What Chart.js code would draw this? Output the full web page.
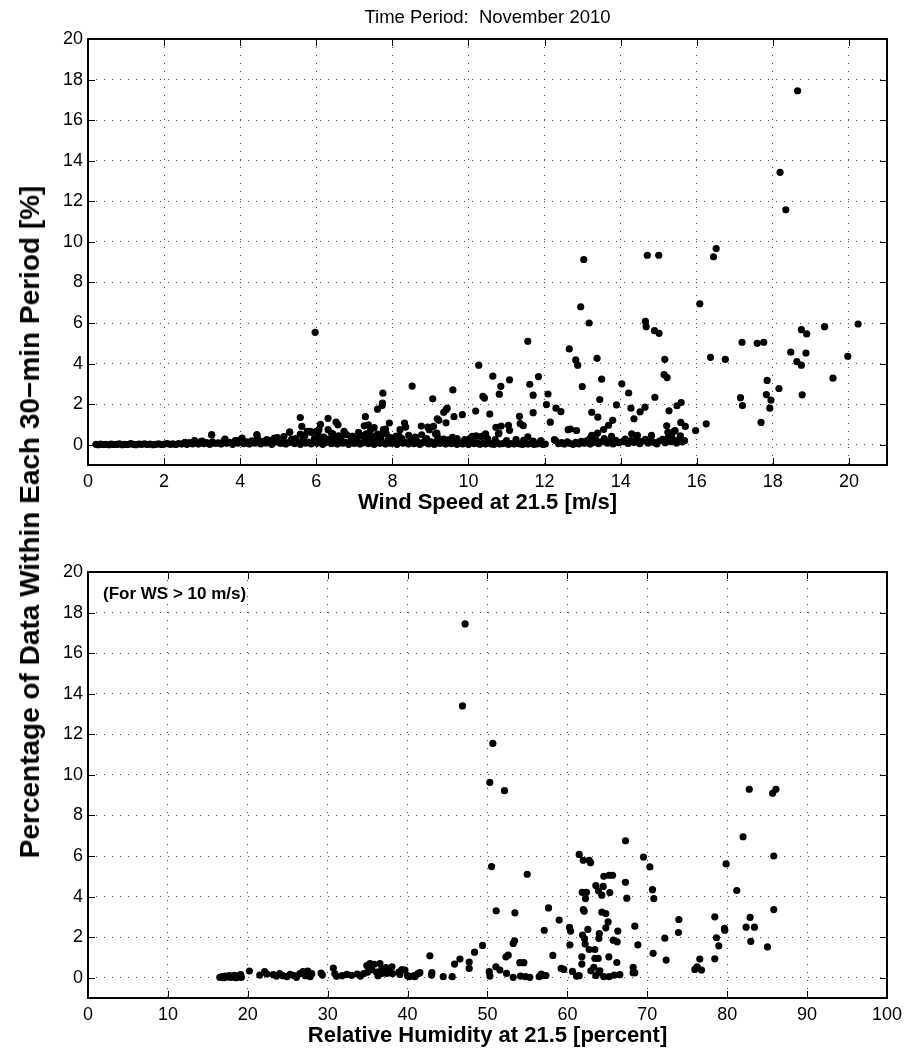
<!DOCTYPE html>
<html>
<head>
<meta charset="utf-8">
<script src="https://cdn.jsdelivr.net/npm/chart.js@4.4.0/dist/chart.umd.min.js"></script>
<style>
  body { margin: 0; background: #fff; }
  #wrap { position: relative; width: 908px; height: 1055px; }
  canvas { position: absolute; left: 0; }
  #ylab {
    position: absolute; left: 30px; top: 522px;
    transform: translate(-50%, -50%) rotate(-90deg);
    font: bold 28px 'Liberation Sans', Arial, sans-serif;
    white-space: nowrap; color: #000;
  }
</style>
</head>
<body>
<div id="wrap">
  <canvas id="topChart" width="908" height="520" style="top:0"></canvas>
  <canvas id="bottomChart" width="908" height="535" style="top:520px"></canvas>
  <div id="ylab">Percentage of Data Within Each 30−min Period [%]</div>
</div>
<script>
// ---- top panel: wind speed vs percentage ----
// dense band of points near zero
const wsBand = [
  0.21,0.27,0.33,0.40,0.47,0.55,0.61,0.68,0.76,0.83,
  0.90,0.97,1.05,1.12,1.19,1.26,1.34,1.41,1.49,1.56,
  1.63,1.71,1.78,1.86,1.93,2.01,2.08,2.16,2.23,2.31,
  2.38,2.46,2.53,2.60,2.67,2.75,2.82,2.90,2.97,3.05,
  3.12,3.20,3.27,3.34,3.42,3.50,3.57,3.64,3.72,3.80,
  3.87,3.94,4.02,4.09,4.17,4.24,4.31,4.39,4.46,4.54,
  4.61,4.68,4.76,4.83,4.91,4.98,5.06,5.13,5.20,5.28,
  5.35,5.43,5.50,5.58,5.65,5.72,5.80,5.87,5.95,6.02,
  6.10,6.17,6.25,6.32,6.40,6.47,6.55,6.62,6.70,6.77,
  6.85,6.92,7.00,7.07,7.15,7.22,7.30,7.37,7.45,7.52,
  7.60,7.67,7.75,7.82,7.90,7.97,8.05,8.12,8.20,8.27,
  8.35,8.42,8.50,8.57,8.65,8.72,8.80,8.87,8.95,9.02,
  9.10,9.17,9.25,9.32,9.40,9.47,9.55,9.62,9.70,9.77,
  9.85,9.92,10.00,10.07,10.15,10.22,10.30,10.37,10.45,10.52,
  10.60,10.67,10.75,10.82,10.90,10.97,11.05,11.12,11.20,11.27,
  11.35,11.42,11.50,11.57,11.65,11.72,11.80,11.87,11.95,12.02,
  12.30,12.37,12.45,12.52,12.60,12.67,12.75,12.82,12.90,12.97,
  13.05,13.12,13.20,13.27,13.35,13.42,13.50,13.57,13.65,13.72,
  13.80,13.87,13.95,14.05,14.12,14.20,14.27,14.35,14.42,14.50,
  14.57,14.65,14.72,14.80,14.87,14.95,15.02,15.10,15.17,15.25,
  15.32,15.40,15.47,15.55,15.62,15.68
];
const pctBand = [
  0.02,0.00,0.03,0.01,0.02,0.00,0.03,0.01,0.02,0.04,
  0.00,0.02,0.01,0.05,0.02,0.00,0.03,0.02,0.04,0.01,
  0.03,0.00,0.02,0.04,0.01,0.03,0.05,0.02,0.04,0.01,
  0.06,0.03,0.08,0.02,0.10,0.04,0.12,0.03,0.15,0.05,
  0.10,0.02,0.14,0.06,0.09,0.03,0.18,0.07,0.12,0.02,
  0.20,0.08,0.25,0.05,0.14,0.03,0.19,0.08,0.30,0.04,
  0.16,0.09,0.22,0.02,0.13,0.35,0.06,0.20,0.03,0.11,
  0.27,0.05,0.15,0.02,0.24,0.08,0.13,0.04,0.30,0.07,
  0.18,0.02,0.11,0.26,0.05,0.15,0.03,0.21,0.08,0.12,
  0.02,0.28,0.06,0.17,0.03,0.10,0.22,0.05,0.14,0.02,
  0.19,0.07,0.11,0.03,0.25,0.06,0.13,0.02,0.20,0.08,
  0.12,0.03,0.27,0.05,0.16,0.02,0.10,0.22,0.04,0.14,
  0.02,0.18,0.06,0.11,0.03,0.24,0.05,0.13,0.02,0.09,
  0.04,0.12,0.02,0.20,0.05,0.10,0.02,0.07,0.03,0.12,
  0.04,0.02,0.09,0.03,0.05,0.10,0.02,0.06,0.03,0.08,
  0.04,0.02,0.05,0.03,0.07,0.02,0.04,0.06,0.02,0.03,
  0.18,0.05,0.10,0.03,0.14,0.06,0.02,0.12,0.04,0.16,
  0.07,0.20,0.03,0.11,0.24,0.05,0.15,0.30,0.08,0.18,
  0.04,0.22,0.10,0.15,0.28,0.06,0.20,0.12,0.30,0.05,
  0.17,0.26,0.09,0.20,0.12,0.04,0.18,0.27,0.10,0.35,
  0.15,0.22,0.08,0.30,0.14,0.20
];
// second, slightly raised layer
const wsLayer = [
  2.55,2.80,3.00,3.25,3.60,3.90,4.05,4.30,4.44,4.70,
  4.90,5.15,5.30,5.45,5.70,5.86,6.05,6.20,6.45,6.65,
  6.95,7.05,7.20,7.40,7.55,7.70,7.95,8.10,8.25,8.60,
  8.90,9.20,9.35,9.70,9.90,10.05,10.50,10.70,11.00,11.25,
  11.45,11.70,11.90
];
const pctLayer = [
  0.12,0.20,0.18,0.49,0.28,0.20,0.32,0.15,0.49,0.25,
  0.33,0.40,0.62,0.30,0.45,0.62,0.50,0.38,0.42,0.35,
  0.41,0.30,0.45,0.33,0.40,0.28,0.35,0.43,0.30,0.38,
  0.30,0.35,0.28,0.30,0.25,0.33,0.30,0.25,0.20,0.25,
  0.22,0.18,0.20
];
// scattered points
const wsScatter = [
  18.65,18.19,18.34,13.03,14.70,15.00,16.51,16.44,12.95,16.08,
  5.97,13.17,14.65,14.67,14.89,15.01,11.56,17.19,17.59,17.76,
  18.75,18.89,19.36,20.24,12.65,18.47,18.87,18.63,18.75,19.97,
  12.82,12.87,13.38,16.36,16.75,15.16,10.27,10.64,11.08,11.84,
  15.14,15.22,13.50,19.58,17.85,12.99,8.52,9.59,10.85,11.61,
  14.03,18.16,7.75,11.70,12.09,10.81,10.38,10.42,13.45,9.06,
  14.21,14.90,17.15,17.83,17.95,18.77,7.74,7.73,12.05,13.89,
  17.20,17.92,15.48,15.59,12.30,7.61,9.41,9.44,9.35,10.19,
  12.43,11.70,14.27,14.51,14.64,15.27,13.24,10.56,9.84,13.40,
  11.34,7.29,9.62,5.58,6.31,14.35,9.18,9.22,13.79,12.15,
  17.69,6.52,6.57,9.41,7.92,8.32,11.36,11.44,16.25,15.58,
  6.11,10.86,10.72,11.05,11.08,13.68,15.21,15.70,9.08,8.93,
  8.97,8.76,8.35,7.26,7.37,7.43,7.52,5.62,7.82,7.76,
  12.68,12.62,12.84,13.55,15.97,8.20,6.31,6.00,6.07,5.76,
  5.84,6.73,15.43,15.40,5.30,5.86,15.24,6.40,10.80,13.39,
  9.17,9.13,7.31,7.84,10.79,14.29,10.45,5.58,7.61,6.44,
  3.25,4.44,10.43,8.77,6.80,15.34,13.24,14.44,14.81,8.43,
  7.44,7.15,6.59,15.57,10.20,10.10,10.34,7.68,6.94,8.18,
  13.76,11.56,9.58,13.20,12.26,7.11
];
const pctScatter = [
  17.45,13.43,11.58,9.13,9.34,9.34,9.67,9.26,6.80,6.95,
  5.54,6.00,6.08,5.82,5.62,5.49,5.10,5.05,5.00,5.05,
  5.67,5.46,5.82,5.95,4.72,4.56,4.52,4.10,3.92,4.36,
  4.18,3.92,4.26,4.31,4.21,4.21,3.92,3.38,3.20,3.36,
  3.46,3.31,3.23,3.28,3.17,2.87,2.89,2.70,2.88,2.98,
  3.00,2.77,2.54,2.44,2.50,2.49,2.38,2.30,2.23,2.26,
  2.55,2.34,2.32,2.47,2.20,2.46,2.05,1.93,1.98,1.96,
  1.93,1.80,1.92,2.08,1.80,1.75,1.72,1.80,1.60,1.66,
  1.63,1.58,1.80,1.62,1.85,1.67,1.60,1.51,1.48,1.36,
  1.40,1.38,1.38,1.34,1.30,1.28,1.28,1.20,1.20,1.11,
  1.10,1.11,0.98,1.08,1.07,1.07,1.04,0.94,1.03,1.10,
  1.00,0.92,0.86,0.96,0.71,0.96,0.93,0.90,0.90,0.87,
  0.74,0.92,0.87,0.93,0.98,0.74,0.84,0.90,0.77,0.74,
  0.77,0.74,0.70,0.75,0.70,0.74,0.74,0.66,0.74,0.66,
  0.66,0.66,0.69,0.66,0.62,0.62,0.61,0.57,0.57,0.57,
  0.57,0.54,0.54,0.54,0.54,0.54,0.53,0.52,0.52,0.52,
  0.49,0.49,0.49,0.49,0.49,0.49,0.46,0.46,0.46,0.46,
  0.44,0.44,0.44,0.44,0.44,0.41,0.41,0.41,0.41,0.41,
  0.41,0.39,0.36,0.33,0.25,0.61
];

// ---- bottom panel: relative humidity vs percentage (WS > 10 m/s) ----
const humidity = [
  47.20,46.87,50.67,50.29,52.13,82.76,86.10,85.69,67.27,81.99,
  61.48,61.98,62.73,62.90,69.52,70.32,85.83,79.87,50.51,54.97,
  64.56,65.23,65.65,67.27,63.56,64.48,63.90,64.31,65.31,61.85,
  62.39,62.27,67.44,70.65,70.82,81.20,85.83,51.09,53.43,57.64,
  62.00,62.10,64.31,64.81,58.97,73.95,78.45,82.87,65.10,57.10,
  60.27,60.40,62.56,64.00,64.81,66.31,68.44,73.90,79.66,79.70,
  82.37,83.41,82.95,85.04,78.66,78.95,72.19,61.89,62.14,62.22,
  63.94,65.73,66.23,60.31,68.82,62.73,63.44,70.73,72.36,76.57,
  78.45,75.95,76.78,76.24,58.18,61.81,61.81,63.44,63.85,65.19,
  66.19,59.22,59.55,60.64,61.14,61.48,62.94,63.31,63.56,63.94,
  64.06,64.56,65.23,65.86,66.56,68.23,68.23,68.44,49.38,48.38,
  47.71,47.71,46.55,45.88,42.79,43.04,43.00,44.46,45.59,41.54,
  40.92,40.21,39.67,39.04,38.04,37.37,36.75,36.54,53.22,53.39,
  52.30,52.59,51.05,51.55,52.39,50.22,50.30,54.05,54.55,53.22,
  54.14,54.76,55.30,56.47,56.72,56.97,57.31,16.50,16.80,17.00,
  17.20,17.50,17.70,17.90,18.10,18.30,18.50,18.70,18.90,19.10,
  19.20,20.20,21.50,22.10,22.40,23.20,23.60,24.00,24.40,24.90,
  25.30,25.70,26.10,26.50,26.90,27.20,27.50,27.80,28.00,29.17,
  29.33,30.70,30.90,31.10,31.80,32.40,33.00,33.70,34.10,34.50,
  34.90,35.30,35.80,35.50,35.00,36.10,36.30,36.70,37.30,37.70,
  38.10,38.90,39.30,40.00,40.80,41.30
];
const pctHumid = [
  17.44,13.40,11.55,9.63,9.22,9.29,9.29,9.09,6.75,6.95,
  6.08,5.79,5.79,5.67,5.95,5.46,6.00,5.61,5.48,5.10,
  5.00,5.05,5.05,4.70,4.54,4.50,4.28,4.07,4.20,4.21,
  4.21,3.90,3.92,4.34,3.90,4.30,3.36,3.30,3.20,3.44,
  3.36,3.28,3.23,3.16,2.84,2.87,3.00,2.97,2.75,2.34,
  2.48,2.30,2.38,2.18,2.46,2.30,2.54,2.23,2.43,2.34,
  2.49,2.49,1.79,1.52,1.97,1.57,1.95,2.10,1.93,1.66,
  1.93,1.85,1.77,1.62,1.62,1.39,1.39,1.20,0.87,0.92,
  0.93,0.41,0.38,0.54,1.10,1.03,0.67,0.95,0.95,1.03,
  0.75,0.46,0.41,0.31,0.08,0.10,0.34,0.51,0.11,0.25,
  0.34,0.05,0.05,0.13,0.15,0.51,0.25,0.25,1.59,1.26,
  0.77,0.46,0.92,0.67,1.08,0.25,0.13,0.05,0.05,0.25,
  0.05,0.05,0.38,0.16,0.54,0.21,0.41,0.70,1.69,1.82,
  1.03,1.11,0.54,0.38,0.21,0.30,0.08,0.74,0.74,0.02,
  0.08,0.05,0.02,0.05,0.18,0.11,0.11,0.02,0.05,0.00,
  0.08,0.03,0.10,0.02,0.06,0.12,0.00,0.09,0.04,0.15,
  0.02,0.33,0.13,0.30,0.18,0.15,0.08,0.20,0.10,0.05,
  0.16,0.12,0.02,0.20,0.30,0.10,0.33,0.05,0.20,0.23,
  0.13,0.48,0.20,0.07,0.10,0.16,0.12,0.18,0.08,0.20,
  0.60,0.70,0.66,0.40,0.28,0.28,0.10,0.20,0.50,0.28,
  0.20,0.28,0.40,0.10,0.10,0.20
];

const titleText = 'Time Period:  November 2010';
const noteText = '(For WS > 10 m/s)';

Chart.defaults.font.family = "'Liberation Sans', Arial, Helvetica, sans-serif";
Chart.defaults.color = '#000';

const toPoints = (xs, ys) => xs.map((v, i) => ({ x: v, y: ys[i] }));

// matlab-style box with inward ticks, plus optional text
const matlabBox = {
  id: 'matlabBox',
  afterDraw(chart, args, opts) {
    const { ctx, chartArea: a, scales: { x, y } } = chart;
    ctx.save();
    ctx.strokeStyle = '#000';
    ctx.lineWidth = 1;
    ctx.beginPath();
    x.ticks.forEach(t => {
      const px = Math.round(x.getPixelForValue(t.value)) + 0.5;
      ctx.moveTo(px, a.bottom); ctx.lineTo(px, a.bottom - 7);
      ctx.moveTo(px, a.top); ctx.lineTo(px, a.top + 7);
    });
    y.ticks.forEach(t => {
      const py = Math.round(y.getPixelForValue(t.value)) + 0.5;
      ctx.moveTo(a.left, py); ctx.lineTo(a.left + 7, py);
      ctx.moveTo(a.right, py); ctx.lineTo(a.right - 7, py);
    });
    ctx.stroke();
    ctx.lineWidth = 2;
    ctx.strokeRect(a.left, a.top, a.right - a.left, a.bottom - a.top);
    ctx.fillStyle = '#000';
    if (opts.title) {
      ctx.font = "18.5px 'Liberation Sans', Arial, sans-serif";
      ctx.textAlign = 'center';
      ctx.textBaseline = 'middle';
      ctx.fillText(opts.title, (a.left + a.right) / 2, 18);
    }
    if (opts.note) {
      ctx.font = "bold 17px 'Liberation Sans', Arial, sans-serif";
      ctx.textAlign = 'left';
      ctx.textBaseline = 'middle';
      ctx.fillText(opts.note, a.left + 15, a.top + 22);
    }
    ctx.restore();
  }
};

function makeChart(id, data, cfg) {
  return new Chart(document.getElementById(id), {
    type: 'scatter',
    data: {
      datasets: [{
        data: data,
        pointRadius: 3.6,
        pointBackgroundColor: '#000',
        pointBorderWidth: 0,
        pointHoverRadius: 3.6
      }]
    },
    options: {
      responsive: false,
      animation: false,
      layout: { padding: { top: cfg.padTop, right: 21, left: 0, bottom: 0 } },
      plugins: {
        legend: { display: false },
        tooltip: { enabled: false },
        matlabBox: { title: cfg.title, note: cfg.note }
      },
      scales: {
        x: {
          type: 'linear', min: cfg.xMin, max: cfg.xMax,
          ticks: { stepSize: cfg.xStep, includeBounds: false, font: { size: 18 }, padding: 6, maxRotation: 0, autoSkip: false },
          grid: { color: 'rgba(0,0,0,0.7)', lineWidth: 1, drawTicks: false },
          border: { display: false, dash: [1, 7] },
          title: { display: true, text: cfg.xTitle, font: { size: 22, weight: 'bold' }, padding: { top: 0, bottom: cfg.xTitlePad } },
          afterFit(s) { s.height = cfg.xHeight; }
        },
        y: {
          type: 'linear', min: -1, max: 20,
          ticks: { stepSize: 2, includeBounds: false, font: { size: 18 }, padding: 5 },
          grid: { color: 'rgba(0,0,0,0.7)', lineWidth: 1, drawTicks: false },
          border: { display: false, dash: [1, 7] },
          afterFit(s) { s.width = 88; }
        }
      }
    },
    plugins: [matlabBox]
  });
}

makeChart('topChart',
  toPoints(wsBand, pctBand).concat(toPoints(wsLayer, pctLayer), toPoints(wsScatter, pctScatter)),
  { padTop: 39, xMin: 0, xMax: 21, xStep: 2, xTitle: 'Wind Speed at 21.5 [m/s]', xTitlePad: 3.5, xHeight: 55, title: titleText });

makeChart('bottomChart', toPoints(humidity, pctHumid),
  { padTop: 52, xMin: 0, xMax: 100, xStep: 10, xTitle: 'Relative Humidity at 21.5 [percent]', xTitlePad: 5.5, xHeight: 57, note: noteText });
</script>
</body>
</html>
